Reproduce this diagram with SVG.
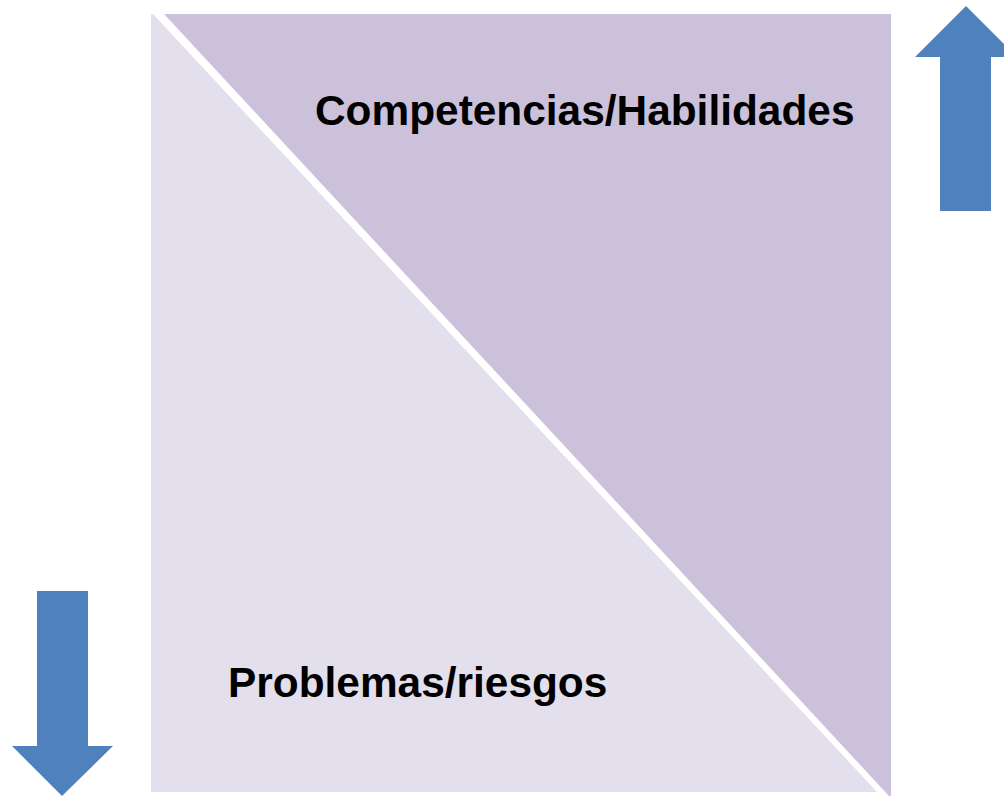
<svg xmlns="http://www.w3.org/2000/svg" width="1004" height="798" viewBox="0 0 1004 798">
<style>
.lbl{font-family:"Liberation Sans",Arial,sans-serif;font-weight:bold;font-size:42.4px;fill:#000}
.arrow{fill:#4F81BD}
</style>
<rect width="1004" height="798" fill="#fff"/>
<g id="lower-triangle">
<polygon points="151,14 153,14 877,792 151,792" fill="#E4DFEC"/>
<text class="lbl" x="315" y="697" dx="-87">Problemas/riesgos</text>
</g>
<g id="upper-triangle">
<polygon points="164,14 891,14 891,796 889,796" fill="#CCC1DB"/>
<text class="lbl" x="315" y="125">Competencias/Habilidades</text>
</g>
<g id="up-arrow">
<polygon class="arrow" points="966,6 1017,57 991,57 991,211 940,211 940,57 915,57"/>
</g>
<g id="down-arrow">
<polygon class="arrow" points="37,591 88,591 88,746 113,746 62,796 12,746 37,746"/>
</g>
<g id="connectors"></g>
</svg>
